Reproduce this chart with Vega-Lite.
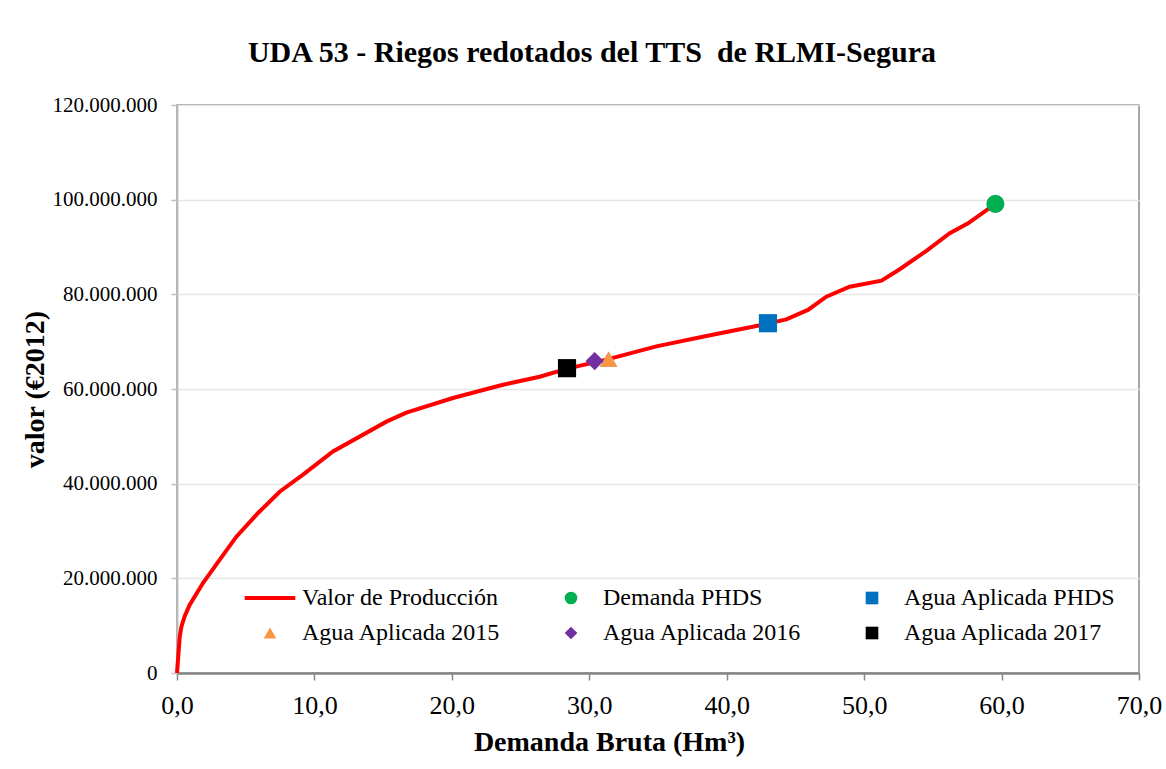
{
  "$schema": "https://vega.github.io/schema/vega-lite/v6.json",
  "width": 962,
  "height": 568,
  "autosize": {"type": "none"},
  "padding": {"left": 177, "top": 105, "right": 27, "bottom": 96},
  "background": "white",
  "title": {
    "text": "UDA 53 - Riegos redotados del TTS \u00a0de RLMI-Segura",
    "font": "Liberation Serif",
    "fontSize": 30,
    "fontWeight": "bold",
    "color": "black",
    "anchor": "middle",
    "frame": "group",
    "dx": -66,
    "baseline": "alphabetic",
    "offset": 2
  },
  "config": {
    "view": {"stroke": "#898989", "strokeWidth": 1.5},
    "font": "Liberation Serif"
  },
  "datasets": {
    "curve": [
      {"demanda": 0, "valor": 0},
      {"demanda": 0.2, "valor": 7700000},
      {"demanda": 0.32, "valor": 9800000},
      {"demanda": 0.56, "valor": 12000000},
      {"demanda": 0.92, "valor": 14400000},
      {"demanda": 1.89, "valor": 19000000},
      {"demanda": 3.1, "valor": 23900000},
      {"demanda": 4.32, "valor": 28800000},
      {"demanda": 5.9, "valor": 33800000},
      {"demanda": 7.47, "valor": 38300000},
      {"demanda": 9.17, "valor": 41900000},
      {"demanda": 11.35, "valor": 46800000},
      {"demanda": 15.24, "valor": 53100000},
      {"demanda": 16.69, "valor": 55000000},
      {"demanda": 20.08, "valor": 58100000},
      {"demanda": 23.72, "valor": 60900000},
      {"demanda": 26.39, "valor": 62600000},
      {"demanda": 28.4, "valor": 64300000},
      {"demanda": 31.25, "valor": 66200000},
      {"demanda": 34.88, "valor": 69000000},
      {"demanda": 38.52, "valor": 71200000},
      {"demanda": 42.16, "valor": 73300000},
      {"demanda": 44.34, "valor": 74700000},
      {"demanda": 45.91, "valor": 76700000},
      {"demanda": 47.25, "valor": 79500000},
      {"demanda": 48.95, "valor": 81600000},
      {"demanda": 51.26, "valor": 82900000},
      {"demanda": 52.59, "valor": 85300000},
      {"demanda": 54.53, "valor": 89200000},
      {"demanda": 56.23, "valor": 92900000},
      {"demanda": 57.56, "valor": 95000000},
      {"demanda": 59.5, "valor": 99000000}
    ],
    "pts": [
      {"demanda": 59.55, "valor": 99100000, "serie": "Demanda PHDS"},
      {"demanda": 43.0, "valor": 73900000, "serie": "Agua Aplicada PHDS"},
      {"demanda": 31.4, "valor": 66300000, "serie": "Agua Aplicada 2015"},
      {"demanda": 30.39, "valor": 65900000, "serie": "Agua Aplicada 2016"},
      {"demanda": 28.38, "valor": 64400000, "serie": "Agua Aplicada 2017"}
    ]
  },
  "encoding": {
    "x": {
      "field": "demanda",
      "type": "quantitative",
      "scale": {"domain": [0, 70], "nice": false, "zero": false},
      "axis": {
        "title": "Demanda Bruta (Hm³)",
        "titleFont": "Liberation Serif",
        "titleFontSize": 28,
        "titleFontWeight": "bold",
        "titleColor": "black",
        "titlePadding": 10,
        "titleX": 432,
        "values": [0, 10, 20, 30, 40, 50, 60, 70],
        "labelExpr": "replace(format(datum.value, '.1f'), '.', ',')",
        "labelFont": "Liberation Serif",
        "labelFontSize": 26,
        "labelColor": "black",
        "labelPadding": 12,
        "labelFlush": false,
        "labelOverlap": false,
        "domainColor": "#868686",
        "domainWidth": 2.5,
        "tickColor": "#868686",
        "tickWidth": 1.5,
        "tickSize": 7,
        "grid": false
      }
    },
    "y": {
      "field": "valor",
      "type": "quantitative",
      "scale": {"domain": [0, 120000000], "nice": false},
      "axis": {
        "title": "valor (€2012)",
        "titleFont": "Liberation Serif",
        "titleFontSize": 28,
        "titleFontWeight": "bold",
        "titleColor": "black",
        "titlePadding": 3,
        "values": [0, 20000000, 40000000, 60000000, 80000000, 100000000, 120000000],
        "labelExpr": "replace(format(datum.value, ','), /,/g, '.')",
        "labelFont": "Liberation Serif",
        "labelFontSize": 21,
        "labelColor": "black",
        "labelPadding": 14,
        "labelFlush": false,
        "labelOverlap": false,
        "domainColor": "#BFBFBF",
        "domainWidth": 2,
        "tickColor": "#BFBFBF",
        "tickWidth": 1.5,
        "tickSize": 6,
        "grid": true,
        "gridColor": "#E6E6E6",
        "gridWidth": 1.5
      }
    }
  },
  "layer": [
    {
      "data": {"name": "curve"},
      "mark": {"type": "line", "strokeWidth": 4, "interpolate": "linear", "color": "#FF0000"}
    },
    {
      "data": {"name": "pts"},
      "mark": {"type": "point", "filled": true, "opacity": 1, "size": 330, "strokeWidth": 0},
      "encoding": {
        "color": {
          "field": "serie",
          "type": "nominal",
          "scale": {
            "domain": ["Valor de Producción", "Demanda PHDS", "Agua Aplicada PHDS", "Agua Aplicada 2015", "Agua Aplicada 2016", "Agua Aplicada 2017"],
            "range": ["#FF0000", "#00B050", "#0070C0", "#F79646", "#7030A0", "#000000"]
          },
          "legend": {
            "title": null,
            "orient": "none",
            "legendX": 66,
            "legendY": 481,
            "direction": "horizontal",
            "columns": 3,
            "gridAlign": "all",
            "columnPadding": 30,
            "rowPadding": 11,
            "symbolSize": 160,
            "symbolStrokeWidth": 0,
            "symbolOffset": 15,
            "labelOffset": 20,
            "labelFont": "Liberation Serif",
            "labelFontSize": 24,
            "labelColor": "black",
            "labelLimit": 400,
            "symbolOpacity": 1
          }
        },
        "shape": {
          "field": "serie",
          "type": "nominal",
          "scale": {
            "domain": ["Valor de Producción", "Demanda PHDS", "Agua Aplicada PHDS", "Agua Aplicada 2015", "Agua Aplicada 2016", "Agua Aplicada 2017"],
            "range": ["M-4,-0.3H4V0.3H-4Z", "circle", "square", "triangle-up", "diamond", "square"]
          },
          "legend": {
            "title": null,
            "orient": "none",
            "legendX": 66,
            "legendY": 481,
            "direction": "horizontal",
            "columns": 3,
            "gridAlign": "all",
            "columnPadding": 30,
            "rowPadding": 11,
            "symbolSize": 160,
            "symbolStrokeWidth": 0,
            "symbolOffset": 15,
            "labelOffset": 20,
            "labelFont": "Liberation Serif",
            "labelFontSize": 24,
            "labelColor": "black",
            "labelLimit": 400,
            "symbolOpacity": 1
          }
        }
      }
    }
  ]
}
